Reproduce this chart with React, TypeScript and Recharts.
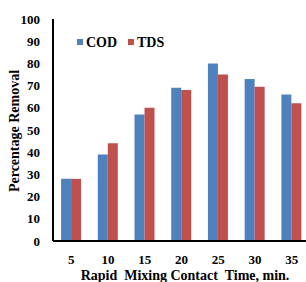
import React from 'react';
import { BarChart, Bar, XAxis, YAxis } from 'recharts';

const categories = ['5', '10', '15', '20', '25', '30', '35'];
const codValues = [28, 39, 57, 69, 80, 73, 66];
const tdsValues = [28, 44, 60, 68, 75, 69.5, 62];
const yTicks = [0, 10, 20, 30, 40, 50, 60, 70, 80, 90, 100];

const data = categories.map((c, i) => ({ time: c, COD: codValues[i], TDS: tdsValues[i] }));

const BLUE = '#4F81BD';
const RED = '#C0504D';
const FONT = 'Liberation Serif';

const LegendBox = () => (
  <g>
    <rect x={77} y={39} width={6} height={6} fill={BLUE} />
    <text x={86} y={47} style={{ fontFamily: FONT }} fontWeight="bold" fontSize={14} fill="#000">COD</text>
    <rect x={128} y={39} width={6} height={6} fill={RED} />
    <text x={137} y={47} style={{ fontFamily: FONT }} fontWeight="bold" fontSize={14} fill="#000">TDS</text>
  </g>
);

export default function App() {
  return (
    <div style={{ position: 'absolute', left: 0, top: 0, width: 306, height: 282, background: '#fff', overflow: 'hidden', fontFamily: FONT }}>
      <BarChart
        width={310}
        height={282}
        data={data}
        margin={{ top: 19, right: 0, bottom: 0, left: 0 }}
        barCategoryGap="22%"
        barGap={0}
        style={{ fontFamily: FONT }}
      >
        <YAxis
          width={53}
          domain={[0, 100]}
          ticks={yTicks}
          interval={0}
          axisLine={{ stroke: '#000', strokeWidth: 2 }}
          tickLine={false}
          tick={{ fill: '#000', fontSize: 13, fontWeight: 'bold', fontFamily: FONT }}
          tickMargin={7}
          label={{
            content: () => (
              <text
                x={14}
                y={131}
                transform="rotate(-90 14 131)"
                textAnchor="middle"
                dominantBaseline="central"
                style={{ fontFamily: FONT }}
                fontWeight="bold"
                fontSize={14}
                fill="#000"
              >
                Percentage Removal
              </text>
            ),
          }}
        />
        <XAxis
          dataKey="time"
          height={41}
          axisLine={{ stroke: '#000', strokeWidth: 2 }}
          tickLine={false}
          tick={{ fill: '#000', fontSize: 13, fontWeight: 'bold', fontFamily: FONT }}
          tickMargin={8}
          label={{
            content: () => (
              <text
                x={185}
                y={275}
                textAnchor="middle"
                dominantBaseline="central"
                style={{ fontFamily: FONT, whiteSpace: 'pre' }}
                fontWeight="bold"
                fontSize={14}
                fill="#000"
              >
                {'Rapid  Mixing Contact  Time, min.'}
              </text>
            ),
          }}
        />
        <Bar dataKey="COD" fill={BLUE} isAnimationActive={false} />
        <Bar dataKey="TDS" fill={RED} isAnimationActive={false} />
        <LegendBox />
      </BarChart>
    </div>
  );
}
